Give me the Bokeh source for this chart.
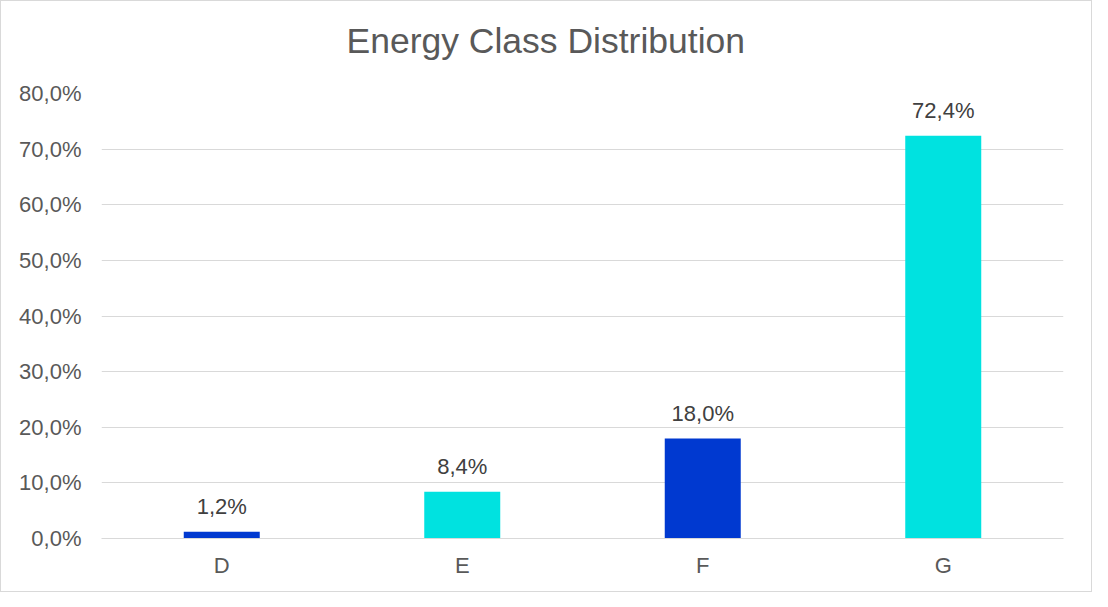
from bokeh.plotting import figure
from bokeh.models import ColumnDataSource, FixedTicker, CustomJSTickFormatter, Range1d, Title
from bokeh.core.properties import value
from bokeh.embed import file_html
from bokeh.resources import INLINE

categories = ["D", "E", "F", "G"]
shares = [1.2, 8.4, 18.0, 72.4]
bar_colors = ["#0039D0", "#00E2E0", "#0039D0", "#00E2E0"]
y_ticks = [0, 10, 20, 30, 40, 50, 60, 70, 80]
title_text = "Energy Class Distribution"

labels = [f"{v:.1f}".replace(".", ",") + "%" for v in shares]
src = ColumnDataSource(dict(cat=categories, val=shares, color=bar_colors, lab=labels))

FONT = "Liberation Sans"

p = figure(x_range=categories, y_range=Range1d(0, 80), width=1092, height=592,
           output_backend="svg", toolbar_location=None,
           min_border_left=100, min_border_right=30, min_border_top=92, min_border_bottom=55)

# spacer between frame and title, then the title itself
p.add_layout(Title(text=" ", text_font_size="1px", standoff=25), "above")
p.add_layout(Title(text=title_text, align="left", offset=245,
                   text_font=FONT, text_font_size="35.5px", text_font_style="normal",
                   text_color="#595959", standoff=10), "above")

p.vbar(x="cat", top="val", width=0.316, color="color", source=src, line_color=None)
p.text(x="cat", y="val", text="lab", source=src, text_align="center",
       text_baseline="alphabetic", y_offset=-25, text_font=value(FONT),
       text_font_size="22px", text_color="#404040")

p.outline_line_color = None
p.xgrid.grid_line_color = None
p.ygrid.grid_line_color = "#d9d9d9"
p.ygrid.grid_line_width = 1

p.yaxis.ticker = FixedTicker(ticks=y_ticks)
p.yaxis.formatter = CustomJSTickFormatter(code="return tick.toFixed(1).replace('.', ',') + '%';")
for ax in (p.xaxis[0], p.yaxis[0]):
    ax.axis_line_color = None
    ax.major_tick_line_color = None
    ax.minor_tick_line_color = None
    ax.major_tick_out = 0
    ax.major_tick_in = 0
    ax.major_label_text_font = FONT
    ax.major_label_text_font_size = "22px"
    ax.major_label_text_color = "#595959"
p.xaxis.axis_line_color = "#d9d9d9"
p.yaxis.major_label_standoff = 20
p.xaxis.major_label_standoff = 14

p.styles = {"border": "1px solid #d9d9d9"}

open("out.html", "w").write(file_html(p, INLINE))
